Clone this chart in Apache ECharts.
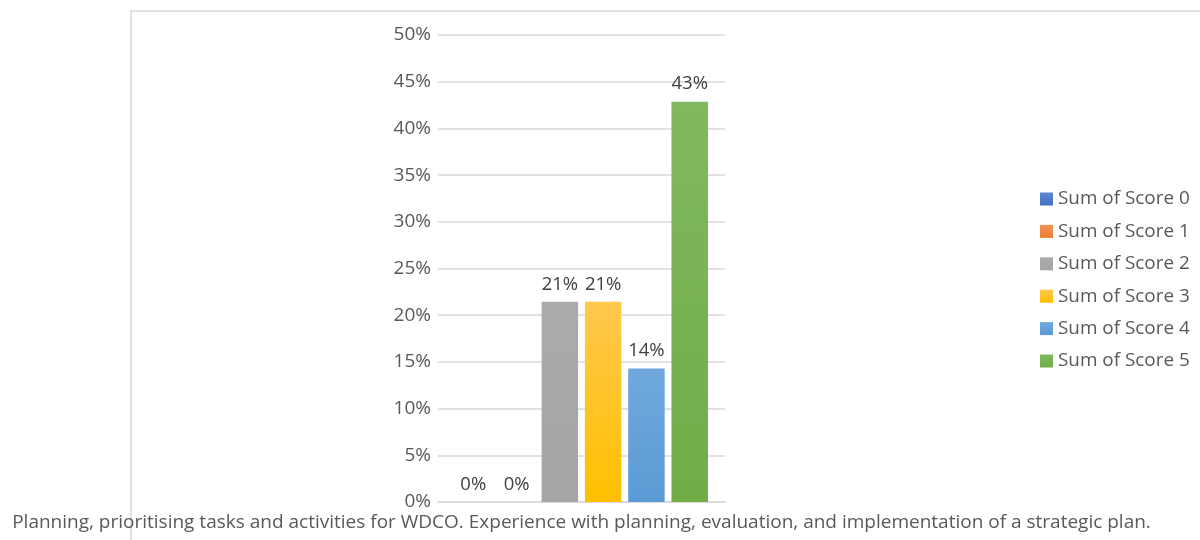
<!DOCTYPE html>
<html>
<head>
<meta charset="utf-8">
<script src="https://cdn.jsdelivr.net/npm/echarts@6/dist/echarts.min.js"></script>
<style>
  html, body { margin: 0; padding: 0; background: #ffffff; }
  #chart { width: 1200px; height: 540px; }
</style>
</head>
<body>
<div id="chart"></div>
<script>
// Category shown on the x axis
const categories = [
  'Planning, prioritising tasks and activities for WDCO. Experience with planning, evaluation, and implementation of a strategic plan.'
];
// Series names
const seriesNames = ['Sum of Score 0', 'Sum of Score 1', 'Sum of Score 2', 'Sum of Score 3', 'Sum of Score 4', 'Sum of Score 5'];
// Share of responses per score (fraction of total)
const scoreShares = [0, 0, 3 / 14, 3 / 14, 2 / 14, 6 / 14];
// Y axis range and step
const yTicks = { min: 0, max: 0.5, interval: 0.05 };

// Bar colours: lighter at the top, base colour at the bottom
const palette = [
  ['#5a86d0', '#4472c4'],
  ['#f29257', '#ed7d31'],
  ['#ababab', '#a5a5a5'],
  ['#ffc84e', '#ffc000'],
  ['#70a8dd', '#5b9bd5'],
  ['#80b860', '#70ad47']
];

const FONT = '"Open Sans", "Noto Sans", sans-serif';
const TEXT = '#595959';

const chart = echarts.init(document.getElementById('chart'), null, { renderer: 'canvas' });

const series = seriesNames.map((name, i) => ({
  name: name,
  type: 'bar',
  data: [scoreShares[i]],
  barWidth: 36.5,
  barGap: '18.6%',
  itemStyle: {
    color: new echarts.graphic.LinearGradient(0, 0, 0, 1, [
      { offset: 0, color: palette[i][0] },
      { offset: 1, color: palette[i][1] }
    ])
  },
  label: {
    show: true,
    position: 'top',
    distance: 8,
    color: '#404040',
    fontFamily: FONT,
    fontSize: 18.5,
    formatter: p => Math.round(p.value * 100) + '%'
  }
}));

chart.setOption({
  animation: false,
  backgroundColor: '#ffffff',
  graphic: [{
    type: 'rect',
    shape: { x: 131, y: 11, width: 1200, height: 600 },
    style: { fill: 'none', stroke: '#d9d9d9', lineWidth: 1.5 },
    silent: true,
    z: -1
  }],
  grid: { left: 438, right: 475, top: 35, bottom: 38, containLabel: false },
  legend: {
    orient: 'vertical',
    left: 1035,
    top: 184,
    itemWidth: 13,
    itemHeight: 13,
    itemGap: 12.4,
    icon: 'rect',
    textStyle: { color: TEXT, fontFamily: FONT, fontSize: 18.9, lineHeight: 20 },
    data: seriesNames
  },
  xAxis: {
    type: 'category',
    data: categories,
    axisLine: { show: true, lineStyle: { color: '#d9d9d9', width: 1.5 } },
    axisTick: { show: false },
    axisLabel: { interval: 0, margin: 11, color: TEXT, fontFamily: FONT, fontSize: 19 }
  },
  yAxis: {
    type: 'value',
    min: yTicks.min,
    max: yTicks.max,
    interval: yTicks.interval,
    axisLine: { show: false },
    axisTick: { show: false },
    splitLine: { lineStyle: { color: '#d9d9d9', width: 1.5 } },
    axisLabel: {
      margin: 7,
      color: TEXT,
      fontFamily: FONT,
      fontSize: 19,
      formatter: v => Math.round(v * 100) + '%'
    }
  },
  series: series
});
</script>
</body>
</html>
